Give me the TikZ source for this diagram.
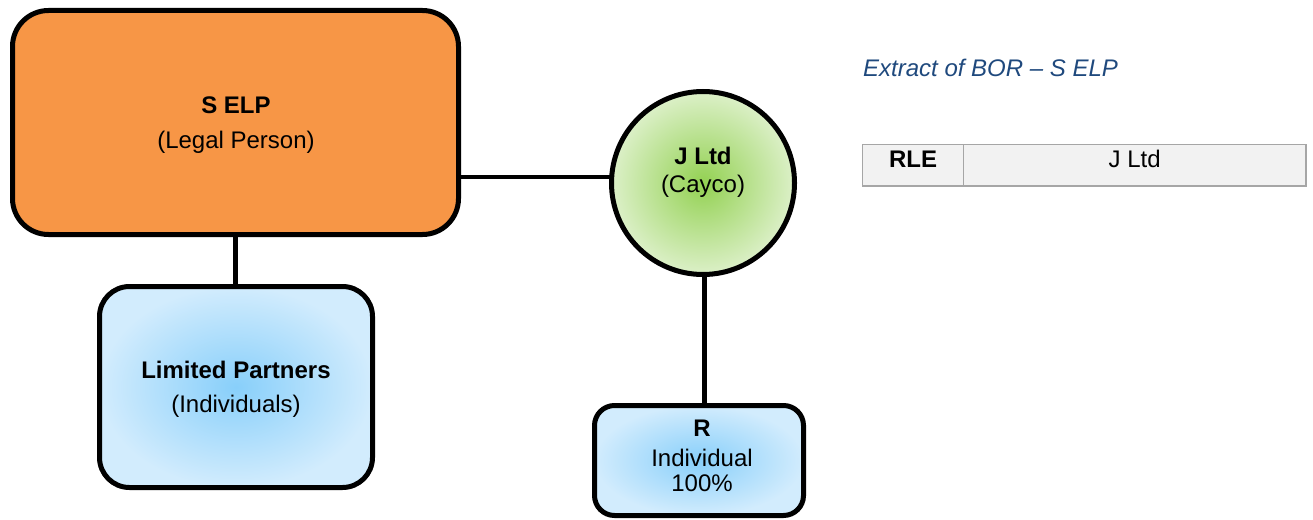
\documentclass[tikz,border=0pt]{standalone}
\usepackage{fontspec}
\setmainfont{Liberation Sans}
\usetikzlibrary{shapes.geometric}
\definecolor{orangefill}{HTML}{F79646}
\definecolor{greenin}{HTML}{93D152}
\definecolor{greenout}{HTML}{DCF0C8}
\definecolor{bluein}{HTML}{88CFFA}
\definecolor{blueout}{HTML}{D2ECFD}
\definecolor{titleblue}{HTML}{1F497D}
\definecolor{cellfill}{HTML}{F2F2F2}
\definecolor{cellline}{HTML}{A6A6A6}
\tikzset{
  entity/.style={draw=black, line width=5pt, inner sep=0pt},
  link/.style={draw=black, line width=4.5pt},
  txt/.style={anchor=base, inner sep=0pt, font=\fontsize{24}{28}\selectfont},
  btxt/.style={txt, font=\fontsize{24}{28}\selectfont\bfseries},
  cell/.style={draw=cellline, fill=cellfill, line width=1.2pt, inner sep=0pt, minimum height=41.3pt}
}
\begin{document}
\begin{tikzpicture}[x=1pt,y=-1pt]
\useasboundingbox (0,0) rectangle (1313,519);

% connectors first, so the shapes sit on top of them
\coordinate (hl) at (535,177);
\coordinate (sx) at (235.5,122.5);
\coordinate (jx) at (703,183);
\coordinate (jr) at (704.5,460);
\draw[link] (sx) -- (sx |- 0,387);
\draw[link] (sx |- hl) -- (jx |- hl);
\draw[link] (jr |- jx) -- (jr);

% S ELP
\node[entity, fill=orangefill, rounded corners=36pt, minimum width=446pt, minimum height=224pt] (S) at (sx) {};
\node[btxt] (Sname) at (236,113) {S ELP};
\node[txt] (Stype) at (236,148) {(Legal Person)};

% Limited partners
\node[entity, inner color=bluein, outer color=blueout, rounded corners=30pt, minimum width=273pt, minimum height=201pt] (LP) at (236,387) {};
\node[btxt] (LPname) at (236,378) {Limited Partners};
\node[txt] (LPtype) at (236,412.7) {(Individuals)};

% J Ltd
\node[entity, circle, inner color=greenin, outer color=greenout, minimum size=183pt] (J) at (jx) {};
\node[btxt] (Jname) at (703,164) {J Ltd};
\node[txt] (Jtype) at (703,192) {(Cayco)};

% R
\node[entity, inner color=bluein, outer color=blueout, rounded corners=20pt, minimum width=209pt, minimum height=110pt] (R) at (699,460.5) {};
\node[btxt] (Rname) at (702,436.7) {R};
\node[txt] (Rtype) at (702,466) {Individual};
\node[txt] (Rpct) at (702,491.7) {100\%};

% register extract
\node[txt, anchor=base west, text=titleblue, font=\fontsize{24}{28}\selectfont\itshape] (title) at (863,76.7) {Extract of BOR – S ELP};
\node[cell, minimum width=100.6pt] (c1) at (913,165.4) {};
\node[cell, minimum width=342.7pt] (c2) at (1134.65,165.4) {};
\node[btxt] (c1t) at (913,167.7) {RLE};
\node[txt] (c2t) at (1134.65,167.7) {J Ltd};
\end{tikzpicture}
\end{document}
